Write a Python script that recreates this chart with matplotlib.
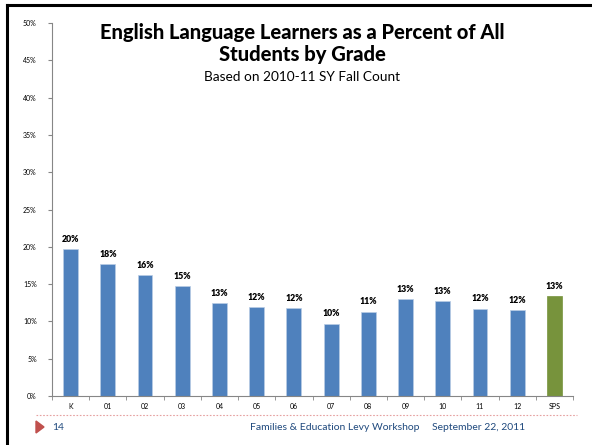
import numpy as np
import matplotlib.pyplot as plt
from matplotlib.lines import Line2D
from matplotlib.patches import Polygon

# Chart data
grades = ["K", "01", "02", "03", "04", "05", "06", "07", "08", "09", "10", "11", "12", "SPS"]
ell_pct = [19.7, 17.7, 16.2, 14.7, 12.5, 11.9, 11.75, 9.7, 11.3, 13.0, 12.7, 11.7, 11.5, 13.4]
bar_labels = ["20%", "18%", "16%", "15%", "13%", "12%", "12%", "10%", "11%", "13%", "13%", "12%", "12%", "13%"]
y_ticks = [0, 5, 10, 15, 20, 25, 30, 35, 40, 45, 50]

BLUE = "#4F81BD"
GREEN = "#77933C"
AXIS_GRAY = "#868686"
FOOT_BLUE = "#1F497D"
FONT = "Lato"

W, H = 592, 445
fig = plt.figure(figsize=(W / 100, H / 100), dpi=100)

def fx(px):
    return px / W

def fy(py):
    return 1 - py / H

ax = fig.add_axes([fx(52), fy(396), fx(573) - fx(52), fy(23) - fy(396)])

x = np.arange(len(grades))
colors = [BLUE] * (len(grades) - 1) + [GREEN]
bars = ax.bar(x, ell_pct, width=0.4, color=colors, edgecolor="#B9CDE5", linewidth=0.5)
bars[-1].set_edgecolor(GREEN)

for xi, v, lab in zip(x, ell_pct, bar_labels):
    ax.text(xi, v + 0.7, lab, ha="center", va="bottom", fontsize=6.3,
            fontweight="heavy", family=FONT, color="black")

ax.set_xlim(-0.5, len(grades) - 0.5)
ax.set_ylim(0, 50)
ax.set_yticks(y_ticks)
ax.set_yticklabels([f"{t}%" for t in y_ticks], family=FONT, fontsize=5)
ax.set_xticks(x)
ax.set_xticklabels(grades, family=FONT, fontsize=5)
ax.set_xticks(np.arange(-0.5, len(grades), 1.0), minor=True)
ax.tick_params(axis="x", which="major", length=0, pad=5)
ax.tick_params(axis="x", which="minor", length=3, color=AXIS_GRAY, direction="out")
ax.tick_params(axis="y", length=3, color=AXIS_GRAY, direction="out", pad=8)

for s in ["top", "right"]:
    ax.spines[s].set_visible(False)
for s in ["left", "bottom"]:
    ax.spines[s].set_color(AXIS_GRAY)
    ax.spines[s].set_linewidth(0.8)

# Title block
fig.text(fx(302), fy(33), "English Language Learners as a Percent of All",
         ha="center", va="center", fontsize=14.5, fontweight="black", family=FONT)
fig.text(fx(302), fy(54), "Students by Grade",
         ha="center", va="center", fontsize=14.5, fontweight="black", family=FONT)
fig.text(fx(302), fy(77), "Based on 2010-11 SY Fall Count",
         ha="center", va="center", fontsize=9.8, family=FONT)

# Slide frame (black border top and left)
fig.add_artist(Line2D([fx(7), fx(7)], [fy(5), 0], color="black", linewidth=2.2))
fig.add_artist(Line2D([fx(7), 1], [fy(5), fy(5)], color="black", linewidth=2.2))

# Footer
fig.add_artist(Line2D([fx(36), fx(577)], [fy(415), fy(415)], color="#E6A0A0",
                      linewidth=0.8, linestyle=(0, (1.5, 1.5))))
fig.add_artist(Polygon([[fx(36), fy(421)], [fx(36), fy(433)], [fx(44), fy(427)]],
                       closed=True, color="#C0504D"))
fig.text(fx(52), fy(427), "14", ha="left", va="center", fontsize=7.5,
         family=FONT, color=FOOT_BLUE)
fig.text(fx(420), fy(427), "Families & Education Levy Workshop", ha="right",
         va="center", fontsize=7.5, family=FONT, color=FOOT_BLUE)
fig.text(fx(432), fy(427), "September 22, 2011", ha="left",
         va="center", fontsize=7.5, family=FONT, color=FOOT_BLUE)

fig.savefig("out.png", dpi=100)
